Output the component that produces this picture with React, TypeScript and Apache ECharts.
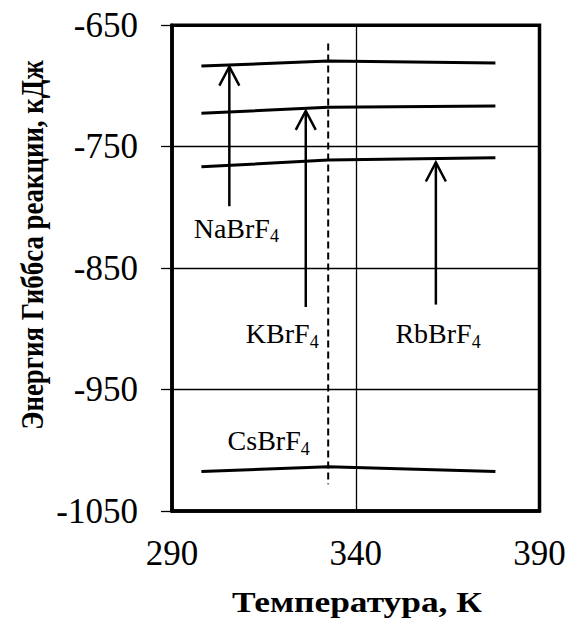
import React, { useEffect, useRef } from "react";
import * as echarts from "echarts";

// ---- data ----
const temps = [298, 332.5, 378];
const naBrF4 = [-683.5, -679.5, -681];
const kBrF4 = [-722.5, -717.5, -716.5];
const rbBrF4 = [-766.5, -761, -759];
const csBrF4 = [-1017.5, -1013.5, -1017.5];

const dashedX = [332.5, 332.5];
const dashedY = [-665, -1028];

// arrows: x, tip value, tail value
const arrowX = [305.6, 326.4, 361.8];
const arrowTip = [-684, -720.5, -763];
const arrowTail = [-799, -882, -880];

const labelNames = ["NaBrF", "KBrF", "RbBrF", "CsBrF"];
const labelX = [307.5, 320, 362.4, 316.3];
const labelY = [-817, -904, -904, -992];

const xTicks = { min: 290, max: 390, interval: 50 };
const yTicks = { min: -1050, max: -650, interval: 100 };

const xTitle = "Температура, К";
const yTitle = "Энергия Гиббса реакции, кДж";

const FONT = "Liberation Serif";

function pairs(xs: number[], ys: number[]) {
  return xs.map((x, i) => [x, ys[i]]);
}

export default function App() {
  const ref = useRef<HTMLDivElement>(null);
  useEffect(() => {
    if (!ref.current) return;
    const chart = echarts.init(ref.current, undefined, { renderer: "svg" });
    const lineStyle = { color: "#000", width: 3 };
    const mkLine = (name: string, ys: number[]) => ({
      name,
      type: "line",
      data: pairs(temps, ys),
      showSymbol: false,
      symbol: "none",
      lineStyle,
      z: 5,
    });
    chart.setOption({
      animation: false,
      backgroundColor: "#fff",
      grid: {
        left: 172,
        right: 29.5,
        top: 25.3,
        bottom: 115,
        containLabel: false,
        outerBoundsMode: "none",
        show: true,
        borderColor: "#000",
        borderWidth: 3.5,
        backgroundColor: "transparent",
        z: 10,
      },
      graphic: [
        {
          type: "text",
          x: 357,
          y: 602,
          scaleX: 1.18,
          style: {
            text: xTitle,
            fontFamily: FONT,
            fontSize: 30,
            fontWeight: "bold",
            fill: "#000",
            align: "center",
            verticalAlign: "middle",
          },
        },
        {
          type: "text",
          x: 32,
          y: 245,
          rotation: Math.PI / 2,
          scaleX: 0.84,
          style: {
            text: yTitle,
            fontFamily: FONT,
            fontSize: 32,
            fontWeight: "bold",
            fill: "#000",
            align: "center",
            verticalAlign: "middle",
          },
        },
      ],
      xAxis: {
        type: "value",
        min: xTicks.min,
        max: xTicks.max,
        interval: xTicks.interval,
        axisLine: { show: true, lineStyle: { color: "#000", width: 3.5 } },
        axisTick: { show: false },
        axisLabel: { fontFamily: FONT, fontSize: 35, color: "#000", margin: 25, formatter: (v: number) => String(v) },
        splitLine: { show: true, lineStyle: { color: "#000", width: 1.3 } },
      },
      yAxis: {
        type: "value",
        min: yTicks.min,
        max: yTicks.max,
        interval: yTicks.interval,
        axisLine: { show: true, lineStyle: { color: "#000", width: 3.5 } },
        axisTick: { show: true, inside: false, length: 11, lineStyle: { color: "#000", width: 1.3 } },
        axisLabel: { fontFamily: FONT, fontSize: 35, color: "#000", margin: 34, formatter: (v: number) => String(v) },
        splitLine: { show: true, lineStyle: { color: "#000", width: 1.3 } },
      },
      series: [
        mkLine("NaBrF4", naBrF4),
        mkLine("KBrF4", kBrF4),
        mkLine("RbBrF4", rbBrF4),
        mkLine("CsBrF4", csBrF4),
        {
          name: "dashed",
          type: "line",
          data: pairs(dashedX, dashedY),
          symbol: "none",
          lineStyle: { color: "#000", width: 2, type: [7, 4] },
          z: 4,
        },
        {
          name: "arrows",
          type: "custom",
          data: arrowX.map((x, i) => [x, arrowTip[i], arrowTail[i]]),
          renderItem: (params: any, api: any) => {
            const tip = api.coord([api.value(0), api.value(1)]);
            const tail = api.coord([api.value(0), api.value(2)]);
            const st = { stroke: "#000", lineWidth: 2.5, fill: "none" };
            return {
              type: "group",
              children: [
                { type: "line", shape: { x1: tail[0], y1: tail[1], x2: tip[0], y2: tip[1] }, style: st },
                {
                  type: "polyline",
                  shape: { points: [[tip[0] - 10, tip[1] + 19], [tip[0], tip[1]], [tip[0] + 10, tip[1] + 19]] },
                  style: st,
                },
              ],
            };
          },
          z: 6,
        },
        {
          name: "labels",
          type: "scatter",
          symbolSize: 0,
          itemStyle: { color: "#000", opacity: 1 },
          data: labelX.map((x, i) => ({ value: [x, labelY[i]], name: labelNames[i] })),
          label: {
            show: true,
            position: "inside",
            color: "#000",
            opacity: 1,
            textBorderWidth: 0,
            formatter: (p: any) => `{m|${p.name}}{s|4}`,
            rich: {
              m: { fontFamily: FONT, fontSize: 28, color: "#000", lineHeight: 34, verticalAlign: "middle" },
              s: { fontFamily: FONT, fontSize: 18, color: "#000", lineHeight: 18, verticalAlign: "bottom" },
            },
          },
          z: 7,
        },
      ],
    });
    return () => chart.dispose();
  }, []);
  return (
    <div
      ref={ref}
      style={{ position: "fixed", left: 0, top: 0, width: 569, height: 626, background: "#fff" }}
    />
  );
}
